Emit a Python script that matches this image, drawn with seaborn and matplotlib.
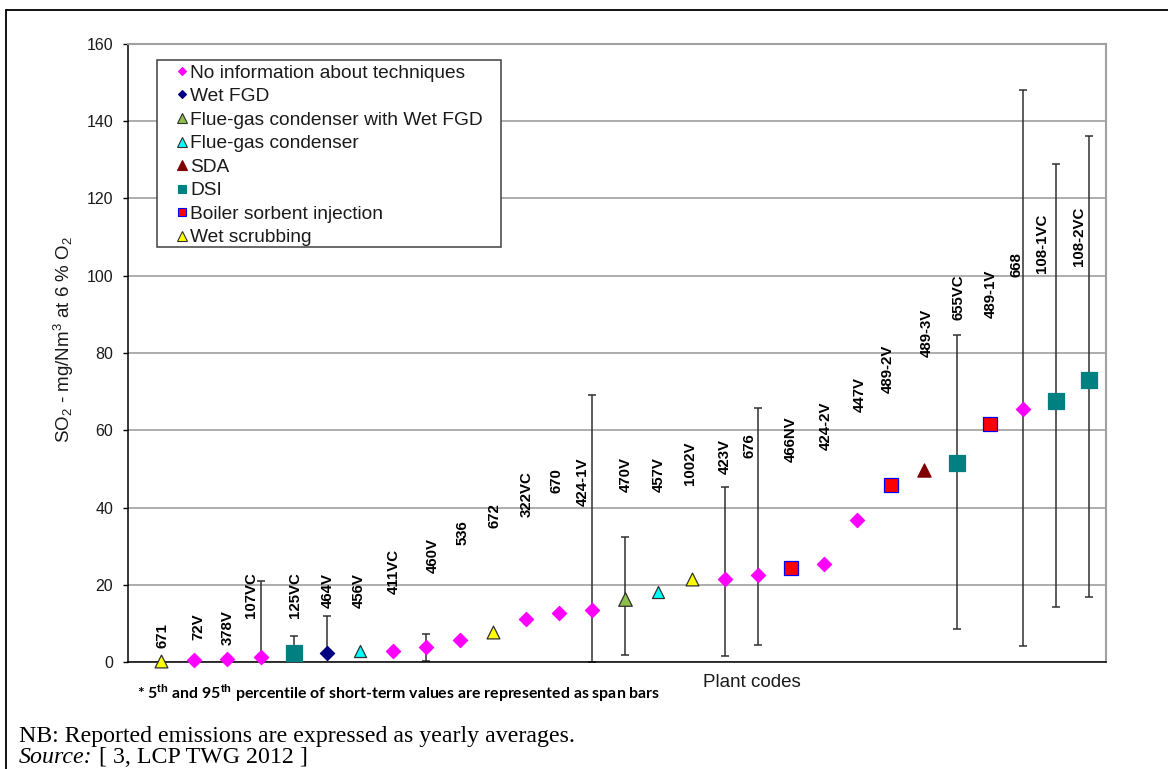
import matplotlib
matplotlib.use('Agg')
import numpy as np
import pandas as pd
import matplotlib.pyplot as plt
import seaborn as sns
from matplotlib.lines import Line2D
from matplotlib.patches import Rectangle

nan = np.nan

# ---------------- data ----------------
plant_codes = ['671', '72V', '378V', '107VC', '125VC', '464V', '456V', '411VC', '460V', '536',
               '672', '322VC', '670', '424-1V', '470V', '457V', '1002V', '423V', '676', '466NV',
               '424-2V', '447V', '489-2V', '489-3V', '655VC', '489-1V', '668', '108-1VC', '108-2VC']
techniques = ['Wet scrubbing', 'No information about techniques', 'No information about techniques',
              'No information about techniques', 'DSI', 'Wet FGD', 'Flue-gas condenser',
              'No information about techniques', 'No information about techniques',
              'No information about techniques', 'Wet scrubbing', 'No information about techniques',
              'No information about techniques', 'No information about techniques',
              'Flue-gas condenser with Wet FGD', 'Flue-gas condenser', 'Wet scrubbing',
              'No information about techniques', 'No information about techniques',
              'Boiler sorbent injection', 'No information about techniques',
              'No information about techniques', 'Boiler sorbent injection', 'SDA', 'DSI',
              'Boiler sorbent injection', 'No information about techniques', 'DSI', 'DSI']
so2_values = [0.3, 0.6, 0.9, 1.4, 2.3, 2.4, 2.9, 2.9, 3.8, 5.7,
              7.7, 11.2, 12.8, 13.5, 16.2, 18.0, 21.4, 21.5, 22.4, 24.3,
              25.5, 36.7, 45.9, 49.7, 51.5, 61.7, 65.4, 67.7, 72.9]
p5_values = [nan, nan, nan, 0.8, 1.5, 1.5, nan, nan, 0.3, nan,
             nan, nan, nan, 0.1, 1.9, nan, nan, 1.6, 4.4, nan,
             nan, nan, nan, nan, 8.5, nan, 4.1, 14.3, 16.8]
p95_values = [nan, nan, nan, 21.0, 6.8, 11.8, nan, nan, 7.2, nan,
              nan, nan, nan, 69.2, 32.3, nan, nan, 45.2, 65.8, nan,
              nan, nan, nan, nan, 84.7, nan, 148.2, 129.0, 136.1]
# where each rotated plant-code label starts (data units)
label_heights = [3.6, 5.7, 4.4, 11.4, 11.4, 14.0, 14.0, 17.6, 23.1, 30.3,
                 34.6, 37.6, 43.7, 40.4, 43.9, 44.1, 45.8, 48.6, 52.7, 51.9,
                 54.9, 64.8, 69.7, 78.9, 88.5, 89.1, 99.8, 100.8, 102.5]
label_shift_px = [1, 4, 0, -10, 1, 1, -1, 1, 6, 3,
                  2, 1, -2, -9, 0, 0, -2, 0, -8, 0,
                  2, 2, -3, 3, 2, 1, -7, -14, -10]

tech_order = ['No information about techniques', 'Wet FGD', 'Flue-gas condenser with Wet FGD',
              'Flue-gas condenser', 'SDA', 'DSI', 'Boiler sorbent injection', 'Wet scrubbing']

# ---------------- styles ----------------
tech_style = {
    'No information about techniques': dict(marker='D', face='#FF00FF', edge='#FF00FF', s=52, ms=4.2),
    'Wet FGD': dict(marker='D', face='#000080', edge='#000080', s=52, ms=4.2),
    'Flue-gas condenser with Wet FGD': dict(marker='^', face='#8DC04A', edge='#303030', s=95, ms=6.5),
    'Flue-gas condenser': dict(marker='^', face='#00FFFF', edge='#303030', s=75, ms=6.5),
    'SDA': dict(marker='^', face='#800000', edge='#800000', s=90, ms=6.5),
    'DSI': dict(marker='s', face='#008080', edge='#008080', s=120, ms=6),
    'Boiler sorbent injection': dict(marker='s', face='#FF0000', edge='#0000FF', s=110, ms=6),
    'Wet scrubbing': dict(marker='^', face='#FFFF00', edge='#303030', s=85, ms=6.5),
}

sns.set_theme(style='white')
plt.rcParams['font.family'] = ['Liberation Sans', 'DejaVu Sans']
plt.rcParams['mathtext.fontset'] = 'custom'
plt.rcParams['mathtext.rm'] = 'Liberation Sans'
plt.rcParams['mathtext.it'] = 'Liberation Sans:italic'
plt.rcParams['mathtext.bf'] = 'Liberation Sans:bold'

W, H = 1168, 769
fig = plt.figure(figsize=(W / 100, H / 100), dpi=100)
fig.patch.set_facecolor('white')
AX_L, AX_R, AX_T, AX_B = 128, 1106, 44, 662
ax = fig.add_axes([AX_L / W, 1 - AX_B / H, (AX_R - AX_L) / W, (AX_B - AX_T) / H])


def ax_frac(px, py):
    return (px - AX_L) / (AX_R - AX_L), (AX_B - py) / (AX_B - AX_T)


df = pd.DataFrame({'code': plant_codes, 'tech': techniques, 'so2': so2_values,
                   'p5': p5_values, 'p95': p95_values})
df['pos'] = np.arange(len(df))

# span bars
eb = df.dropna(subset=['p5'])
ax.errorbar(eb['pos'], eb['so2'], yerr=[eb['so2'] - eb['p5'], eb['p95'] - eb['so2']],
            fmt='none', ecolor='#303030', elinewidth=1.1, capsize=2.9, capthick=1.1, zorder=2)

# markers
for tech in tech_order:
    sub = df[df['tech'] == tech]
    st = tech_style[tech]
    sns.scatterplot(data=sub, x='pos', y='so2', ax=ax, marker=st['marker'], s=st['s'],
                    color=st['face'], edgecolor=st['edge'], linewidth=0.9, zorder=3,
                    legend=False, clip_on=False)

# plant code labels
for i, row in df.iterrows():
    ax.annotate(row['code'], xy=(row['pos'], label_heights[i]),
                xytext=(label_shift_px[i] * 0.72, 0), textcoords='offset points',
                rotation=90, ha='center', va='bottom', fontsize=10.8, fontweight='bold',
                color='black', zorder=4)

ax.set_xlim(-1, len(df) - 0.5)
ax.set_ylim(0, 160)
ax.set_yticks(range(0, 161, 20))
ax.set_xticks([])
ax.tick_params(axis='y', which='major', left=True, length=3.6, width=1.0, color='black',
               pad=7, labelsize=11.5, labelcolor='#1a1a1a')
ax.yaxis.grid(True, color='#A0A0A0', linewidth=1.2)
ax.set_axisbelow(True)
for side in ['top', 'right']:
    ax.spines[side].set_color('#A0A0A0')
    ax.spines[side].set_linewidth(1.5)
for side in ['left', 'bottom']:
    ax.spines[side].set_color('black')
    ax.spines[side].set_linewidth(1.1)

ax.set_xlabel('Plant codes', fontsize=13.5, color='#1a1a1a')
ax.set_ylabel('SO$_2$ - mg/Nm$^3$ at 6 % O$_2$', fontsize=13.5, color='#1a1a1a')
ax.xaxis.set_label_coords(ax_frac(752, 0)[0], ax_frac(0, 674)[1])
ax.xaxis.label.set_va('top')
ax.yaxis.set_label_coords(ax_frac(76, 0)[0], ax_frac(0, 339)[1])

# legend box
x0, y1 = ax_frac(157, 60)
x1, y0 = ax_frac(501, 247)
ax.add_patch(Rectangle((x0, y0), x1 - x0, y1 - y0, transform=ax.transAxes, facecolor='white',
                       edgecolor='#404040', linewidth=1.1, zorder=5))
handles = []
for tech in tech_order:
    st = tech_style[tech]
    handles.append(Line2D([], [], linestyle='none', marker=st['marker'], markersize=st['ms'],
                          markerfacecolor=st['face'], markeredgecolor=st['edge'],
                          markeredgewidth=0.8, label=tech))
leg = ax.legend(handles=handles, loc='upper left', bbox_to_anchor=(x0, y1), borderaxespad=0,
                frameon=False, fontsize=13.8, numpoints=1, borderpad=0.22, labelspacing=0.32,
                handlelength=2.2, handletextpad=-0.7)
leg.set_zorder(6)
for t in leg.get_texts():
    t.set_color('#1a1a1a')

# notes
fig.text(137 / W, 1 - 693 / H,
         '* 5$^{\\mathbf{th}}$ and 95$^{\\mathbf{th}}$ percentile of short-term values are represented as span bars',
         fontfamily='Lato', fontweight='bold', fontsize=11.4, va='center', ha='left', color='black')
fig.text(19 / W, 1 - 742 / H, 'NB: Reported emissions are expressed as yearly averages.',
         fontfamily='Liberation Serif', fontsize=17.2, va='baseline', ha='left', color='black')
src = fig.text(19 / W, 1 - 763 / H, 'Source:', fontfamily='Liberation Serif', fontstyle='italic',
               fontsize=17.2, va='baseline', ha='left', color='black')
renderer = fig.canvas.get_renderer()
bb = src.get_window_extent(renderer)
fig.text(bb.x1 / W, 1 - 763 / H, ' [ 3, LCP TWG 2012 ]', fontfamily='Liberation Serif',
         fontsize=17.2, va='baseline', ha='left', color='black')

# outer frame (left and top edges)
fig.add_artist(Line2D([6 / W, 6 / W], [0, 1 - 10 / H], transform=fig.transFigure,
                      color='black', linewidth=1.3))
fig.add_artist(Line2D([6 / W, 1], [1 - 10 / H, 1 - 10 / H], transform=fig.transFigure,
                      color='black', linewidth=1.3))

fig.savefig('out.png', dpi=100)
